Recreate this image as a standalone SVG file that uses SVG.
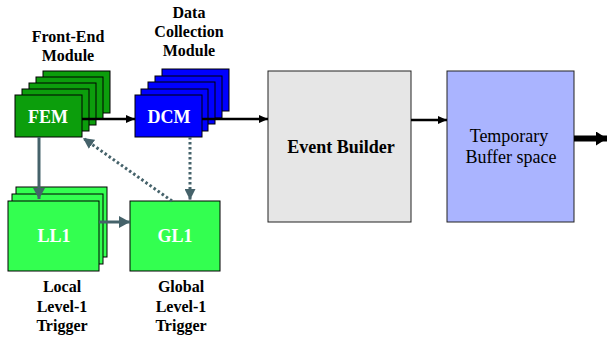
<svg xmlns="http://www.w3.org/2000/svg" width="607" height="341" viewBox="0 0 607 341">
<defs>
<style>
.lbl{font-family:"Liberation Serif","Times New Roman",Tinos,"DejaVu Serif",serif;font-weight:bold;font-size:16px;fill:#000;text-anchor:middle}
.in{font-family:"Liberation Serif","Times New Roman",Tinos,"DejaVu Serif",serif;font-weight:bold;font-size:18px;fill:#fff;text-anchor:middle}
.big{font-family:"Liberation Serif","Times New Roman",Tinos,"DejaVu Serif",serif;font-size:18px;fill:#000;text-anchor:middle}
.fem{fill:#0c9e0c;stroke:#000;stroke-width:1}
.dcm{fill:#0000ff;stroke:#000;stroke-width:1}
.ll{fill:#33ff50;stroke:#000;stroke-width:1}
.blk{stroke:#000;stroke-width:2.5;fill:none}
.gry{stroke:#45626a;stroke-width:3;fill:none}
.dot{stroke:#45626a;stroke-width:3;fill:none;stroke-dasharray:2.5 2.5}
</style>
<marker id="ab" markerUnits="userSpaceOnUse" markerWidth="10" markerHeight="8" refX="9" refY="4" orient="auto"><path d="M0,0 L9,4 L0,8 Z" fill="#000"/></marker>
<marker id="ag" markerUnits="userSpaceOnUse" markerWidth="12" markerHeight="12" refX="11" refY="6" orient="auto"><path d="M0,0 L11,6 L0,12 Z" fill="#45626a"/></marker>
<marker id="ad" markerUnits="userSpaceOnUse" markerWidth="12" markerHeight="11" refX="11" refY="5.5" orient="auto"><path d="M0,0 L11,5.5 L0,11 Z" fill="#45626a"/></marker>
<marker id="abig" markerUnits="userSpaceOnUse" markerWidth="12" markerHeight="14" refX="11" refY="7" orient="auto"><path d="M0,0 L11,7 L0,14 Z" fill="#000"/></marker>
</defs>
<rect width="607" height="341" fill="#fff"/>

<g id="fem">
<rect class="fem" x="43" y="71" width="67" height="42"/>
<rect class="fem" x="36" y="77" width="67" height="42"/>
<rect class="fem" x="29" y="83" width="67" height="42"/>
<rect class="fem" x="22" y="89" width="67" height="42"/>
<rect class="fem" x="15" y="95" width="67" height="42"/>
<text class="in" x="48" y="123">FEM</text>
<text class="lbl" x="68" y="42">Front-End</text>
<text class="lbl" x="68" y="61">Module</text>
</g>

<g id="dcm">
<rect class="dcm" x="162" y="69" width="67" height="42"/>
<rect class="dcm" x="155" y="76" width="67" height="42"/>
<rect class="dcm" x="148" y="82" width="67" height="42"/>
<rect class="dcm" x="141" y="89" width="67" height="42"/>
<rect class="dcm" x="135" y="95" width="67" height="42"/>
<text class="in" x="169" y="123">DCM</text>
<text class="lbl" x="189" y="18">Data</text>
<text class="lbl" x="189" y="37">Collection</text>
<text class="lbl" x="189" y="56">Module</text>
</g>

<g id="ll1">
<rect class="ll" x="16" y="187" width="91" height="70"/>
<rect class="ll" x="12" y="194" width="91" height="70"/>
<rect class="ll" x="8" y="201" width="91" height="70"/>
<text class="in" x="54" y="242">LL1</text>
<text class="lbl" x="62" y="292">Local</text>
<text class="lbl" x="62" y="312">Level-1</text>
<text class="lbl" x="62" y="331">Trigger</text>
</g>

<g id="gl1">
<rect class="ll" x="130" y="201" width="90" height="70"/>
<text class="in" x="175" y="242">GL1</text>
<text class="lbl" x="181" y="292">Global</text>
<text class="lbl" x="181" y="312">Level-1</text>
<text class="lbl" x="181" y="331">Trigger</text>
</g>

<g id="eb">
<rect x="268" y="71" width="143" height="151" fill="#e6e6e6" stroke="#222" stroke-width="1"/>
<text class="big" x="341" y="153" font-weight="bold">Event Builder</text>
</g>

<g id="tb">
<rect x="447" y="71" width="127" height="151" fill="#aab4ff" stroke="#222" stroke-width="1"/>
<text class="big" x="509" y="142">Temporary</text>
<text class="big" x="511" y="163">Buffer space</text>
</g>

<g id="connectors">
<line class="blk" x1="82" y1="119" x2="135" y2="119" marker-end="url(#ab)"/>
<line class="blk" x1="202" y1="119" x2="268" y2="119" marker-end="url(#ab)"/>
<line class="blk" x1="411" y1="120" x2="447" y2="120" marker-end="url(#ab)"/>
<line x1="574" y1="138.5" x2="607" y2="138.5" stroke="#000" stroke-width="6" marker-end="url(#abig)"/>
<line class="gry" x1="39" y1="137" x2="39" y2="199" marker-end="url(#ag)"/>
<line class="gry" x1="99" y1="222" x2="130" y2="222" marker-end="url(#ag)"/>
<line class="dot" x1="190" y1="137" x2="190" y2="200" marker-end="url(#ad)"/>
<line class="dot" x1="172" y1="201" x2="83" y2="138" marker-end="url(#ad)"/>
</g>
</svg>
